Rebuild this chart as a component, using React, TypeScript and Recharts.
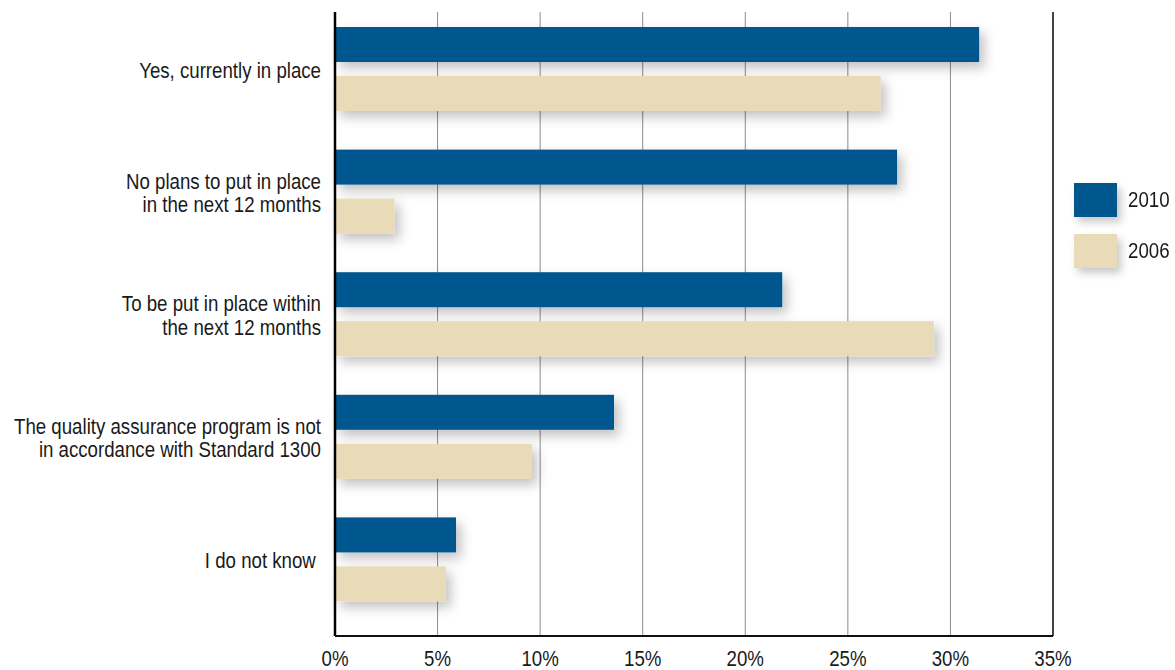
import React from "react";
import {
  BarChart,
  Bar,
  XAxis,
  YAxis,
  CartesianGrid,
  ReferenceLine,
} from "recharts";

const categories = [
  "Yes, currently in place",
  "No plans to put in place\nin the next 12 months",
  "To be put in place within\nthe next 12 months",
  "The quality assurance program is not\nin accordance with Standard 1300",
  "I do not know ",
];
const values2010 = [31.4, 27.4, 21.8, 13.6, 5.9];
const values2006 = [26.6, 2.9, 29.2, 9.6, 5.4];
const xTicks = [0, 5, 10, 15, 20, 25, 30, 35];
const years = ["2010", "2006"];

const FONT = "'Liberation Sans', Arial, sans-serif";
// horizontal squeeze that turns Liberation Sans into a narrow face
const NARROW = 0.83;
const BLUE = "#00578e";
const BEIGE = "#eadbb8";
const TEXT = "#1a1a1a";

const data = categories.map((label, i) => ({
  label,
  y2010: values2010[i],
  y2006: values2006[i],
}));

const ShadowBar = (props: any) => {
  const { x, y, width, height, fill } = props;
  if (!width || width <= 0) return null;
  return (
    <rect
      x={x}
      y={y}
      width={width}
      height={height}
      fill={fill}
      filter="url(#barShadow)"
    />
  );
};

const narrowAt = (x: number) =>
  `translate(${x},0) scale(${NARROW},1) translate(${-x},0)`;

const CategoryTick = (props: any) => {
  const { x, y, payload } = props;
  const lines = String(payload.value).split("\n");
  const lineHeight = 23.5;
  const first = -((lines.length - 1) * lineHeight) / 2 + 8.5;
  return (
    <text
      x={x}
      y={y}
      textAnchor="end"
      fontFamily={FONT}
      fontSize={22.5}
      fill={TEXT}
      transform={narrowAt(x)}
      style={{ whiteSpace: "pre" }}
    >
      {lines.map((line, i) => (
        <tspan key={i} x={x} dy={i === 0 ? first : lineHeight}>
          {line}
        </tspan>
      ))}
    </text>
  );
};

const PercentTick = (props: any) => {
  const { x, y, payload } = props;
  return (
    <text
      x={x}
      y={y + 30}
      textAnchor="middle"
      fontFamily={FONT}
      fontSize={22.5}
      fill={TEXT}
      transform={narrowAt(x)}
    >
      {`${payload.value}%`}
    </text>
  );
};

const YearLegend = () => {
  const colors = [BLUE, BEIGE];
  return (
    <div
      style={{
        position: "absolute",
        left: 1074,
        top: 174.5,
        fontFamily: FONT,
        fontSize: 22.5,
        color: TEXT,
      }}
    >
      {years.map((name, i) => (
        <div
          key={name}
          style={{ display: "flex", alignItems: "center", height: 51 }}
        >
          <span
            style={{
              display: "inline-block",
              width: 43,
              height: 34,
              background: colors[i],
              boxShadow: "4px 5px 8px rgba(0,0,0,0.22)",
              marginRight: 11,
            }}
          />
          <span
            style={{
              display: "inline-block",
              transform: `scaleX(${NARROW})`,
              transformOrigin: "left center",
            }}
          >
            {name}
          </span>
        </div>
      ))}
    </div>
  );
};

export default function App() {
  return (
    <div
      style={{
        position: "absolute",
        left: 0,
        top: 0,
        width: 1175,
        height: 670,
        background: "#fff",
      }}
    >
      <BarChart
        width={1175}
        height={670}
        data={data}
        layout="vertical"
        margin={{ top: 12, right: 122, bottom: 0, left: 0 }}
        barSize={35}
        barGap={14}
      >
        <defs>
          <filter
            id="barShadow"
            x="-20%"
            y="-60%"
            width="150%"
            height="240%"
          >
            <feDropShadow
              dx={5}
              dy={6}
              stdDeviation={6}
              floodColor="#000"
              floodOpacity={0.24}
            />
          </filter>
        </defs>
        <CartesianGrid horizontal={false} stroke="#8c8c8c" strokeWidth={1} />
        <XAxis
          type="number"
          domain={[0, 35]}
          ticks={xTicks}
          height={34}
          tickSize={0}
          tickMargin={0}
          tickLine={false}
          axisLine={{ stroke: "#111", strokeWidth: 2 }}
          tick={<PercentTick />}
          interval={0}
        />
        <YAxis
          type="category"
          dataKey="label"
          width={335}
          padding={{ top: -4, bottom: 15 }}
          tickSize={0}
          tickMargin={14}
          tickLine={false}
          axisLine={{ stroke: "#000", strokeWidth: 2.5 }}
          tick={<CategoryTick />}
          interval={0}
        />
        <ReferenceLine x={35} stroke="#444" strokeWidth={2} />
        <Bar
          dataKey="y2010"
          name={years[0]}
          fill={BLUE}
          shape={<ShadowBar />}
          isAnimationActive={false}
        />
        <Bar
          dataKey="y2006"
          name={years[1]}
          fill={BEIGE}
          shape={<ShadowBar />}
          isAnimationActive={false}
        />
      </BarChart>
      <YearLegend />
    </div>
  );
}
